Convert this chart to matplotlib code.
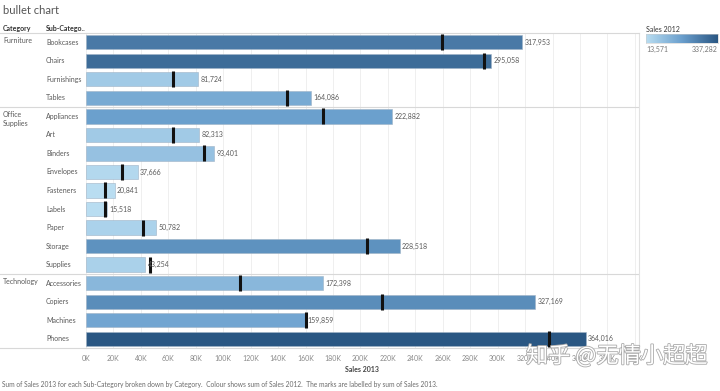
import matplotlib
matplotlib.use('Agg')
import numpy as np
import matplotlib.pyplot as plt
from matplotlib.colors import LinearSegmentedColormap, Normalize
import matplotlib.patheffects as pe

# ---------------- data ----------------
category_groups = ['Furniture', 'Office\nSupplies', 'Technology']
group_sizes = [4, 9, 4]
sub_categories = ['Bookcases', 'Chairs', 'Furnishings', 'Tables',
                  'Appliances', 'Art', 'Binders', 'Envelopes', 'Fasteners',
                  'Labels', 'Paper', 'Storage', 'Supplies',
                  'Accessories', 'Copiers', 'Machines', 'Phones']
sales_2013 = [317953, 295058, 81724, 164086,
              222882, 82313, 93401, 37666, 20841,
              15518, 50782, 228518, 43254,
              172398, 327169, 159859, 364016]
sales_2012 = [259500, 290200, 63200, 146600,
              173000, 63200, 86300, 26500, 14100,
              13571, 41800, 204900, 46400,
              112500, 216000, 160200, 337282]
legend_min, legend_max = 13571, 337282
x_ticks = list(range(0, 400001, 20000))
x_tick_labels = [f'{t // 1000}K' for t in x_ticks]

plt.rcParams['font.family'] = ['Lato', 'DejaVu Sans']

W, H = 720, 391
fig = plt.figure(figsize=(W / 100, H / 100), dpi=100)
fig.patch.set_facecolor('white')


def fx(px):
    return px / W


def fy(py):
    return 1 - py / H


left_px, right_px, top_px, bot_px = 86, 639, 33, 348
ax = fig.add_axes([fx(left_px), fy(bot_px), (right_px - left_px) / W, (bot_px - top_px) / H])
lax = fig.add_axes([0, fy(bot_px), fx(left_px), (bot_px - top_px) / H], sharey=ax)

cmap = LinearSegmentedColormap.from_list('tab_blue', ['#b9ddf1', '#6a9fcd', '#2a5783'])
norm = Normalize(legend_min, legend_max)

n = len(sub_categories)
y = np.arange(n)
colors = [cmap(norm(v)) for v in sales_2012]

ax.barh(y, sales_2013, height=0.77, color=colors, edgecolor='#9fb3c6', linewidth=0.4, zorder=2)
ax.plot(sales_2012, y, ls='none', marker='|', markersize=12, markeredgewidth=2.2,
        color='#111111', zorder=4)
for yi, v in zip(y, sales_2013):
    ax.text(v + 1800, yi, f'{v:,}', va='center', ha='left', fontsize=5, color='#5a5a5a', zorder=5)

ax.set_xlim(0, 403000)
ax.set_ylim(n - 0.5, -0.5)
ax.set_xticks(x_ticks)
ax.set_xticklabels(x_tick_labels)
ax.set_yticks([])
ax.tick_params(axis='x', length=0, labelsize=5, colors='#8a8a8a', pad=5)
ax.grid(axis='x', color='#ececec', linewidth=0.6, zorder=0)
ax.set_axisbelow(True)
for s in ['top', 'bottom']:
    ax.spines[s].set_color('#d8d8d8')
    ax.spines[s].set_linewidth(0.8)
ax.spines['right'].set_color('#e2e2e2')
ax.spines['right'].set_linewidth(0.8)
ax.spines['left'].set_visible(False)

# label columns
lax.set_xlim(0, left_px)
lax.set_xticks([])
lax.tick_params(axis='y', left=False, labelleft=False)
for s in ['left', 'right']:
    lax.spines[s].set_visible(False)
for s in ['top', 'bottom']:
    lax.spines[s].set_color('#d8d8d8')
    lax.spines[s].set_linewidth(0.8)

start = 0
for g, size in zip(category_groups, group_sizes):
    if start > 0:
        ax.axhline(start - 0.5, color='#d8d8d8', linewidth=0.8, zorder=1)
        lax.axhline(start - 0.5, color='#d8d8d8', linewidth=0.8)
    lax.text(3, start - 0.3, g, va='top', ha='left', fontsize=5, color='#5a5a5a', linespacing=1.3)
    start += size

for yi, s in zip(y, sub_categories):
    lax.text(46, yi, s, va='center', ha='left', fontsize=5, color='#5a5a5a')

# headers & title
fig.text(fx(3), fy(10), 'bullet chart', fontsize=8, color='#555555', va='center', ha='left')
fig.text(fx(3), fy(28), 'Category', fontsize=5, fontweight='bold', color='#333333', va='center')
fig.text(fx(46), fy(28), 'Sub-Catego..', fontsize=5, fontweight='bold', color='#333333', va='center')

# axis title and caption
fig.text(fx(362), fy(369), 'Sales 2013', fontsize=5, fontweight='bold', color='#444444',
         ha='center', va='center')
fig.text(fx(2), fy(384),
         'Sum of Sales 2013 for each Sub-Category broken down by Category.  Colour shows sum of Sales 2012.  '
         'The marks are labelled by sum of Sales 2013.',
         fontsize=4.8, color='#6a6a6a', ha='left', va='center')

# colour legend
fig.text(fx(646), fy(29), 'Sales 2012', fontsize=5, color='#333333', ha='left', va='center')
cax = fig.add_axes([fx(646), fy(43), 72 / W, 9 / H])
cax.imshow(np.linspace(0, 1, 256)[None, :], aspect='auto', cmap=cmap)
cax.set_xticks([])
cax.set_yticks([])
for s in cax.spines.values():
    s.set_color('#cccccc')
    s.set_linewidth(0.4)
fig.text(fx(646), fy(49), f'{legend_min:,}', fontsize=5, color='#777777', ha='left', va='center')
fig.text(fx(718), fy(49), f'{legend_max:,}', fontsize=5, color='#777777', ha='right', va='center')

# watermark
fig.text(fx(526), fy(356), '知乎 @无情小超超', fontsize=16,
         family=['Noto Sans CJK SC', 'DejaVu Sans'], color='white', ha='left', va='center',
         path_effects=[pe.withStroke(linewidth=1.2, foreground='#aaaaaa')])

fig.savefig('out.png', dpi=100, facecolor='white')
